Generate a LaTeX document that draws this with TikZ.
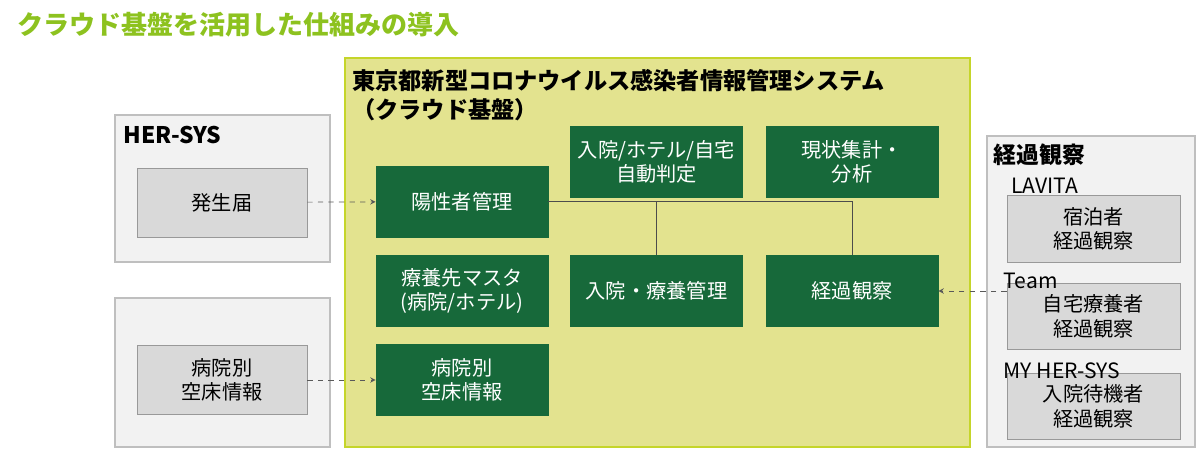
\documentclass[tikz,border=0pt]{standalone}
\usepackage{fontspec}
\setmainfont{Noto Sans CJK JP}
\usepackage{tikz}
\usetikzlibrary{calc, positioning}

\definecolor{titlegreen}{HTML}{8DC21F}
\definecolor{darkgreen}{HTML}{17693A}
\definecolor{olivefill}{HTML}{E3E38F}
\definecolor{oliveline}{HTML}{C5D52A}

\begin{document}
\begin{tikzpicture}

    \tikzstyle{panel}=[draw=black!25, fill=black!5, thick];
    \tikzstyle{graybox}=[draw=black!40, fill=black!15, minimum width=3.4cm, minimum height=1.38cm, align=center, font=\fontsize{11.5}{14}\selectfont];
    \tikzstyle{greenbox}=[draw=darkgreen, fill=darkgreen, text=white, minimum width=3.44cm, minimum height=1.42cm, align=center, font=\fontsize{11.5}{14}\selectfont];
    \tikzstyle{label}=[anchor=west, font=\fontsize{12}{14}\selectfont];

    \useasboundingbox (0, 0) rectangle (24, -8.98);

    \node[anchor=west, text=titlegreen, font=\fontsize{14.8}{17}\selectfont\bfseries] (title) at (0.22, -0.5) {クラウド基盤を活用した仕組みの導入};

    % panels
    \draw[panel] (2.3, -2.3) rectangle (6.6, -5.24);
    \draw[panel] (2.3, -5.96) rectangle (6.6, -8.94);
    \draw[panel] (19.74, -2.72) rectangle (23.9, -8.94);
    \draw[draw=oliveline, fill=olivefill, line width=1.5pt] (6.9, -1.16) rectangle (19.4, -8.94);

    \node[label, font=\fontsize{13}{15}\selectfont\bfseries] (hersys) at (2.35, -2.7) {HER-SYS};
    \node[label, align=left, font=\fontsize{13.2}{16.5}\selectfont\bfseries] (system) at (6.92, -1.9) {東京都新型コロナウイルス感染者情報管理システム\\（クラウド基盤）};
    \node[label, font=\fontsize{13}{15}\selectfont\bfseries] (obs) at (19.75, -3.1) {経過観察};

    % left side
    \node[graybox] (notice) at (4.44, -4.05) {発生届};
    \node[graybox] (bedsL) at (4.44, -7.6) {病院別\\空床情報};

    % system
    \node[greenbox] (positive) at (9.24, -4.03) {陽性者管理};
    \node[greenbox] (judge) at (13.13, -3.24) {入院/ホテル/自宅\\自動判定};
    \node[greenbox] (stats) at (17.04, -3.24) {現状集計・\\分析};
    \node[greenbox] (master) at (9.24, -5.82) {療養先マスタ\\(病院/ホテル)};
    \node[greenbox] (care) at (13.13, -5.82) {入院・療養管理};
    \node[greenbox] (follow) at (17.04, -5.82) {経過観察};
    \node[greenbox] (bedsS) at (9.24, -7.6) {病院別\\空床情報};

    % right side
    \node[graybox, minimum width=3.46cm, minimum height=1.33cm] (hotel) at (21.87, -4.58) {宿泊者\\経過観察};
    \node[graybox, minimum width=3.46cm, minimum height=1.33cm] (home) at (21.87, -6.33) {自宅療養者\\経過観察};
    \node[graybox, minimum width=3.46cm, minimum height=1.33cm] (wait) at (21.87, -8.13) {入院待機者\\経過観察};
    \node[label] (lavita) at (20.1, -3.72) {LAVITA};
    \node[label] (team) at (19.95, -5.62) {Team};
    \node[label] (myher) at (19.95, -7.42) {MY HER-SYS};

    % connectors
    \draw[black!70] (positive.east) -- (positive.east -| follow.north) -- (follow.north);
    \draw[black!70] (positive.east -| care.north) -- (care.north);

    \draw[dashed, black!65, ->, >=stealth] (notice) -- (positive);
    \draw[dashed, black!65, ->, >=stealth] (bedsL) -- (bedsS);
    \draw[dashed, black!65, ->, >=stealth] (follow.east -| home.west) -- (follow.east);

\end{tikzpicture}
\end{document}
